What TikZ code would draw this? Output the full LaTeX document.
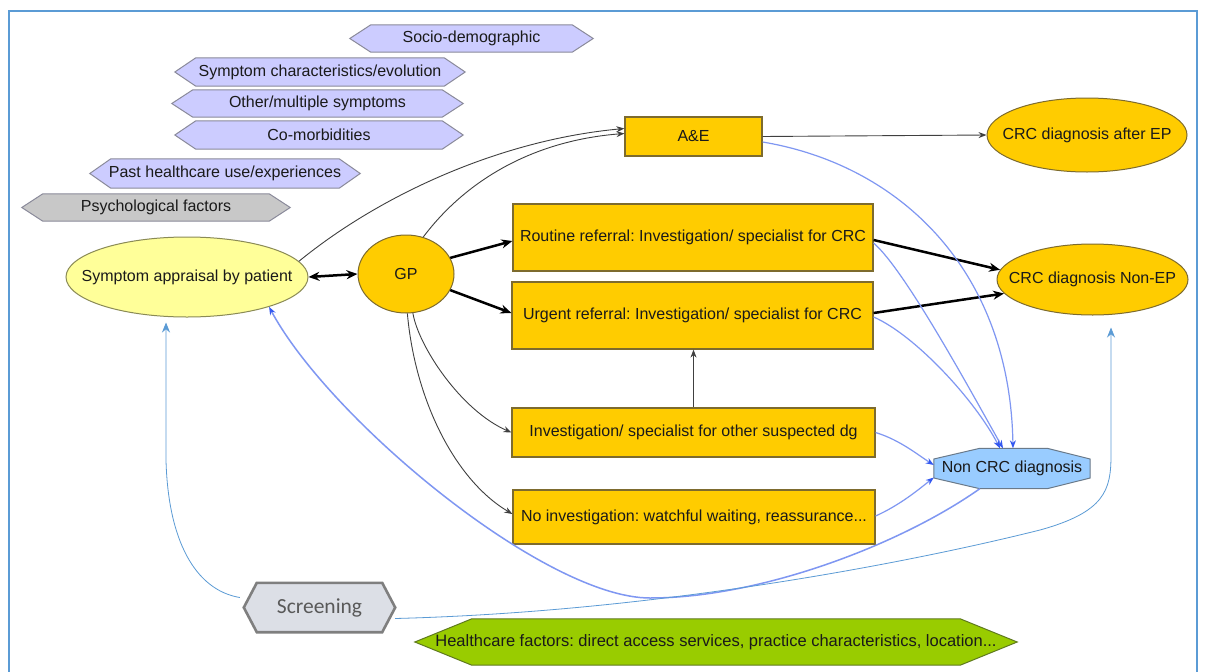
\documentclass[tikz,border=0pt]{standalone}
\usepackage{fontspec}
\setmainfont{Liberation Sans}
\newfontfamily\scrfont{Carlito}
\usetikzlibrary{calc,arrows.meta,backgrounds,shapes.geometric}
\frenchspacing

\definecolor{lav}{HTML}{CCCCFF}
\definecolor{lavedge}{HTML}{8A8A9A}
\definecolor{psy}{HTML}{C8C8C8}
\definecolor{amber}{HTML}{FFCC00}
\definecolor{amberedge}{HTML}{7D6B2E}
\definecolor{pale}{HTML}{FFFF99}
\definecolor{paleedge}{HTML}{8A8A55}
\definecolor{skyfill}{HTML}{99CCFF}
\definecolor{skyedge}{HTML}{6A7A8A}
\definecolor{flowblue}{HTML}{7F97F2}
\definecolor{tipblue}{HTML}{3358F0}
\definecolor{scrline}{HTML}{5B9BD5}
\definecolor{scrfill}{HTML}{DCDFE6}
\definecolor{scredge}{HTML}{7F7F7F}
\definecolor{scrtext}{HTML}{595959}
\definecolor{leaf}{HTML}{99CC00}
\definecolor{leafedge}{HTML}{5F7A1E}
\definecolor{framecol}{HTML}{5B9BD5}
\definecolor{ink}{HTML}{1A1A1A}

% hexagon outline around a (borderless) rectangular node: #1 style, #2 node, #3 tip depth
\newcommand\hexshape[3]{%
  \path[#1] (#2.west) -- ($(#2.north west)+(#3,0)$) -- ($(#2.north east)+(-#3,0)$)
    -- (#2.east) -- ($(#2.south east)+(-#3,0)$) -- ($(#2.south west)+(#3,0)$) -- cycle;}
% text that does not widen an elliptic node
\newcommand\ovaltext[1]{\makebox[0pt][c]{#1}}

\begin{document}
\begin{tikzpicture}[x=1pt,y=-1pt,
  lbl/.style={font=\fontsize{16}{18}\selectfont, text=ink, inner sep=0pt},
  box/.style={lbl, rectangle, draw=amberedge, fill=amber, line width=1.2pt},
  oval/.style={lbl, ellipse, draw=amberedge, fill=amber, line width=1pt},
  hexlab/.style={lbl, rectangle},
  lavhex/.style={fill=lav, draw=lavedge, line width=1pt},
  thin/.style={draw=black!75, line width=0.9pt, -{Stealth[length=8pt,width=6pt]}},
  heavy/.style={draw=black, line width=2.5pt, -{Stealth[length=11pt,width=9pt]}},
  flow/.style={draw=flowblue, line width=1.2pt, -{Stealth[length=8pt,width=6pt,color=tipblue]}},
  scrflow/.style={draw=scrline, line width=0.8pt, -{Stealth[length=10pt,width=8pt]}},
]
\useasboundingbox (0,0) rectangle (1205,672);
\begin{scope}[on background layer]
  \fill[white] (0,0) rectangle (1205,672);
\end{scope}

% frame
\draw[framecol, line width=1.6pt] (9,672) -- (9,11) -- (1197,11) -- (1197,672);

% influencing factors
\node[hexlab, minimum width=243, minimum height=27] (socio) at (471.5,38.5) {Socio-demographic};
\node[hexlab, minimum width=290, minimum height=28] (symch) at (320,72) {Symptom characteristics/evolution};
\node[hexlab, minimum width=291, minimum height=27] (other) at (317.5,103.5) {Other/multiple symptoms};
\node[hexlab, minimum width=288, minimum height=28] (comorb) at (319,135) {Co-morbidities};
\node[hexlab, minimum width=270, minimum height=29] (past) at (225,173.5) {Past healthcare use/experiences};
\node[hexlab, minimum width=268, minimum height=27] (psych) at (156,207.5) {Psychological factors};
\node[hexlab, font=\scrfont\fontsize{21.5}{24}\selectfont, text=scrtext,
      minimum width=151, minimum height=49] (scr) at (319.5,607.5) {Screening};
\node[hexlab, font=\fontsize{16.5}{18}\selectfont, minimum width=602, minimum height=46] (hcf) at (716,642)
      {Healthcare factors: direct access services, practice characteristics, location...};
\node[hexlab, minimum width=156, minimum height=40] (noncrc) at (1012,468.5) {Non CRC diagnosis};

\begin{scope}[on background layer]
  \hexshape{lavhex}{socio}{21}
  \hexshape{lavhex}{symch}{21}
  \hexshape{lavhex}{other}{21}
  \hexshape{lavhex}{comorb}{21}
  \hexshape{lavhex}{past}{21}
  \hexshape{lavhex, fill=psy}{psych}{21}
  \hexshape{fill=scrfill, draw=scredge, line width=2.6pt, line join=miter}{scr}{13}
  \hexshape{fill=leaf, draw=leafedge, line width=1pt}{hcf}{57}
  \path[fill=skyfill, draw=skyedge, line width=1pt]
    ($(noncrc.west)+(0,-9.5)$) -- ($(noncrc.north west)+(46,0)$) -- ($(noncrc.north east)+(-43,0)$)
    -- ($(noncrc.east)+(0,-9.5)$) -- ($(noncrc.east)+(0,9.5)$) -- ($(noncrc.south east)+(-43,0)$)
    -- ($(noncrc.south west)+(46,0)$) -- ($(noncrc.west)+(0,9.5)$) -- cycle;
\end{scope}

% pathway nodes
\node[oval, fill=pale, draw=paleedge, minimum width=242, minimum height=80] (sap) at (187,277) {\ovaltext{Symptom appraisal by patient}};
\node[oval, minimum width=96, minimum height=78] (gp) at (406,274) {\ovaltext{GP}};
\node[box, minimum width=137, minimum height=39] (ae) at (693.5,136.5) {A\&E};
\node[box, minimum width=360, minimum height=67] (rout) at (693,237.5) {Routine referral: Investigation/ specialist for CRC};
\node[box, minimum width=361, minimum height=67] (urg) at (692.5,315.5) {Urgent referral: Investigation/ specialist for CRC};
\node[box, minimum width=363, minimum height=49] (inv) at (693.5,432.5) {Investigation/ specialist for other suspected dg};
\node[box, minimum width=362, minimum height=54] (noinv) at (694,517) {No investigation: watchful waiting, reassurance...};
\node[oval, minimum width=200, minimum height=74] (crcep) at (1087,135) {\ovaltext{CRC diagnosis after EP}};
\node[oval, minimum width=191, minimum height=71] (crcnon) at (1092.5,279.5) {\ovaltext{CRC diagnosis Non-EP}};

% patient and GP
\draw[heavy, {Stealth[length=11pt,width=9pt]}-{Stealth[length=11pt,width=9pt]}] (sap.east) -- (gp.west);
\draw[thin] (sap.8) .. controls (380,195) and (500,140) .. ($(ae.west)+(0,-8)$);
\draw[thin] (gp.65) .. controls (470,175) and (540,140) .. ($(ae.west)+(0,-3)$);
\draw[heavy] (gp.20) -- ($(rout.west)+(0,3.5)$);
\draw[heavy] (gp.-20) -- ($(urg.west)+(0,-2.5)$);
\draw[thin] (gp.-80) .. controls (418,345) and (460,410) .. (inv.west);
\draw[thin] (gp.-88) .. controls (415,400) and (455,480) .. ($(noinv.west)+(0,-3)$);
\draw[thin] (inv.north) -- (inv.north |- urg.south);

% towards a diagnosis
\draw[thin] (ae.east) -- (crcep.west);
\draw[heavy] ($(rout.east)+(0,2.5)$) -- (crcnon.174);
\draw[heavy] ($(urg.east)+(0,-2.5)$) -- (crcnon.189);
\draw[flow] ($(ae.east)+(0,5.5)$) .. controls (900,165) and (1010,270) .. ($(noncrc.north)+(1,0)$);
\draw[flow] ($(rout.east)+(0,5.5)$) .. controls (905,270) and (970,390) .. ($(noncrc.north)+(-9,0)$);
\draw[flow] ($(urg.east)+(0,1.5)$) .. controls (915,335) and (975,400) .. ($(noncrc.north)+(-12,0)$);
\draw[flow] (inv.east) .. controls (900,440) and (918,455) .. ($(noncrc.west)+(0,-3.5)$);
\draw[flow] ($(noinv.east)+(0,-1)$) .. controls (900,505) and (918,490) .. ($(noncrc.west)+(0,9)$);

% back to the patient
\coordinate (ncb) at ($(noncrc.south west)+(46,0)$);
\draw[flow, line width=1.5pt] (ncb) .. controls (900,545) and (760,598) .. (650,598)
  .. controls (545,598) and (330,420) .. (sap.-20);

% screening
\draw[scrflow] ($(scr.west)+(-4,-10)$) .. controls (195,590) and (168,540) .. (166,460) -- ($(sap.south)+(-21,5)$);
\coordinate (scrE) at ($(scr.east)+(0,11)$);
\draw[scrflow] (scrE) .. controls (650,612) and (900,565) .. (1040,530)
  .. controls (1105,512) and (1111,490) .. (1111,455) -- ($(crcnon.south)+(18.5,12)$);
\end{tikzpicture}
\end{document}
